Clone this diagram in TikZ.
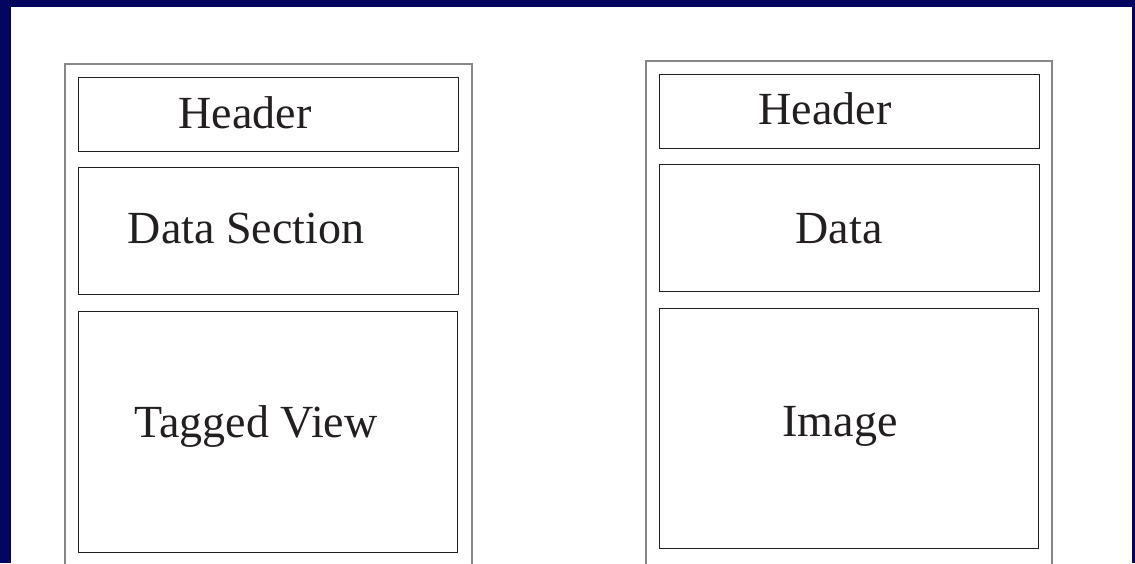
\documentclass[tikz,border=0pt]{standalone}
\usepackage{fontspec}
\setmainfont{Liberation Serif}
\definecolor{navyframe}{RGB}{3,5,94}
\definecolor{outerc}{RGB}{135,135,135}
\definecolor{innerc}{RGB}{35,31,32}
\begin{document}
\begin{tikzpicture}[x=1pt,y=-1pt,
 outerbox/.style={draw=outerc, line width=1.3pt, inner sep=0pt, outer sep=0pt, anchor=north west},
 innerbox/.style={draw=innerc, line width=1pt, inner sep=0pt, outer sep=0pt, anchor=north west},
 lbl/.style={font=\fontsize{46}{50}\selectfont, text=innerc, anchor=base, inner sep=0pt}]
\useasboundingbox (0,0) rectangle (1135,563);
\clip (0,0) rectangle (1135,563);
\fill[navyframe] (0,0) rectangle (1135,563);
\fill[white] (11,7) rectangle (1132,570);
% left column
\node[outerbox, minimum width=407pt, minimum height=540pt] (lout) at (65,64) {};
\node[innerbox, minimum width=380pt, minimum height=74pt] (lhdr) at (78,77) {};
\node[innerbox, minimum width=380pt, minimum height=127pt] (ldata) at (78,167) {};
\node[innerbox, minimum width=379pt, minimum height=241pt] (ltag) at (78,311) {};
\node[lbl] (lhdrt) at (245,128) {Header};
\node[lbl] (ldatat) at (246,243) {Data Section};
\node[lbl] (ltagt) at (256,437) {Tagged View};
% right column
\node[outerbox, minimum width=406pt, minimum height=540pt] (rout) at (646,61) {};
\node[innerbox, minimum width=380pt, minimum height=74pt] (rhdr) at (659,74) {};
\node[innerbox, minimum width=380pt, minimum height=127pt] (rdata) at (659,164) {};
\node[innerbox, minimum width=379pt, minimum height=240pt] (rimg) at (659,308) {};
\node[lbl] (rhdrt) at (825,124) {Header};
\node[lbl] (rdatat) at (839,243) {Data};
\node[lbl] (rimgt) at (840,436) {Image};
\end{tikzpicture}
\end{document}
